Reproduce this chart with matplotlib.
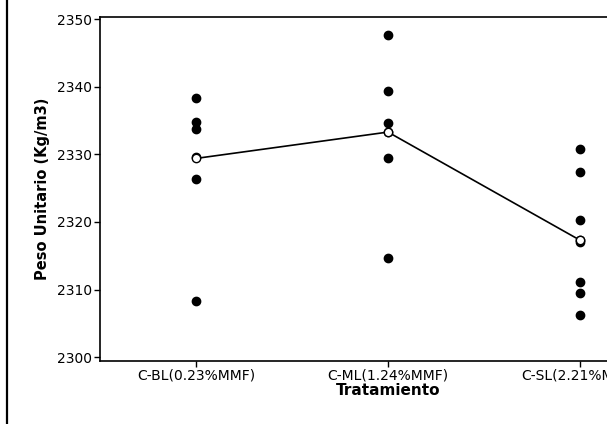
import matplotlib
matplotlib.use('Agg')
import matplotlib.pyplot as plt
from matplotlib.lines import Line2D

plt.rcParams['font.family'] = ['DejaVu Sans']

# Peso unitario por tratamiento (valores individuales y media)
tratamientos = ['C-BL(0.23%MMF)', 'C-ML(1.24%MMF)', 'C-SL(2.21%MMF)']
peso_bl = [2338.3, 2334.8, 2333.8, 2329.6, 2326.4, 2308.3]
peso_ml = [2347.6, 2339.4, 2334.6, 2333.3, 2329.5, 2314.6]
peso_sl = [2330.8, 2327.4, 2320.3, 2317.3, 2317.0, 2311.1, 2309.5, 2306.3]
medias = [2329.4, 2333.3, 2317.3]

fig = plt.figure(figsize=(6.07, 4.24), dpi=100)
# the axes runs past the right edge of the canvas
ax = fig.add_axes([100 / 607, 1 - 360.5 / 424, 576 / 607, 344 / 424])

for i, vals in enumerate([peso_bl, peso_ml, peso_sl]):
    ax.plot([i] * len(vals), vals, 'o', color='black', markersize=6, zorder=2)

ax.plot(range(len(medias)), medias, '-', color='black', linewidth=1.2, zorder=3)
ax.plot(range(len(medias)), medias, 'o', markerfacecolor='white',
        markeredgecolor='black', markersize=6, markeredgewidth=1.0, zorder=4)

ax.set_xlim(-0.5, 2.5)
ax.set_ylim(2299.5, 2350.4)
ax.set_yticks([2300, 2310, 2320, 2330, 2340, 2350])
ax.set_xticks(range(len(tratamientos)))
ax.set_xticklabels(tratamientos)
ax.tick_params(axis='both', direction='out', length=4, width=1, labelsize=10, pad=2)

for s in ax.spines.values():
    s.set_color('black')
    s.set_linewidth(1.2)

ax.set_xlabel('Tratamiento', fontsize=11, fontweight='bold', labelpad=0)
ax.set_ylabel('Peso Unitario (Kg/m3)', fontsize=10.5, fontweight='bold', labelpad=5)

# vertical rule down the left edge of the page
fig.add_artist(Line2D([7 / 607, 7 / 607], [0, 1], color='black', linewidth=1.6,
                      transform=fig.transFigure))

plt.savefig('out.png', dpi=100)
plt.close()
